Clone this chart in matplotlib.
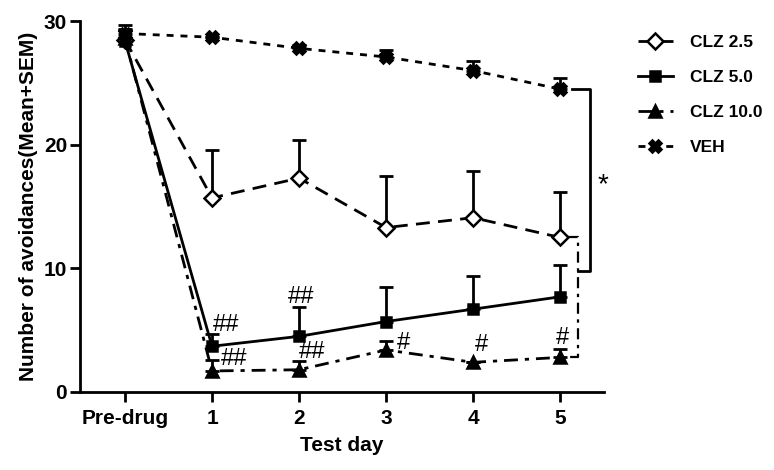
import matplotlib
matplotlib.use("Agg")
import matplotlib.pyplot as plt
import numpy as np

plt.rcParams['font.family'] = ['Liberation Sans', 'DejaVu Sans']

days = ["Pre-drug", "1", "2", "3", "4", "5"]
clz25 = [28.5, 15.7, 17.3, 13.3, 14.1, 12.5]
clz25_sem = [0.8, 3.9, 3.1, 4.2, 3.8, 3.7]
clz50 = [28.4, 3.7, 4.5, 5.7, 6.7, 7.7]
clz50_sem = [0.9, 1.0, 2.4, 2.8, 2.7, 2.6]
clz100 = [28.6, 1.7, 1.8, 3.4, 2.4, 2.8]
clz100_sem = [0.8, 0.9, 0.7, 0.7, 0.0, 0.7]
veh = [29.0, 28.7, 27.8, 27.1, 26.0, 24.5]
veh_sem = [0.7, 0.0, 0.3, 0.6, 0.8, 0.9]

marks = [("##", 1.16, 5.4), ("##", 1.25, 2.7), ("##", 2.02, 7.7), ("##", 2.15, 3.2),
         ("#", 3.2, 4.0), ("#", 4.1, 3.8), ("#", 5.03, 4.4)]

fig = plt.figure(figsize=(7.74, 4.70), dpi=100)
ax = fig.add_axes([0.103, 0.166, 0.677, 0.789])
x = np.arange(len(days))

series = [
    ("CLZ 2.5", clz25, clz25_sem, dict(ls=(0, (5, 3)), marker='D', mfc='white', ms=8)),
    ("CLZ 5.0", clz50, clz50_sem, dict(ls='-', marker='s', mfc='black', ms=7)),
    ("CLZ 10.0", clz100, clz100_sem, dict(ls=(0, (5, 2.5, 1.5, 2.5)), marker='^', mfc='black', ms=8)),
    ("VEH", veh, veh_sem, dict(ls=(0, (2.5, 2.5)), marker='X', mfc='black', ms=9)),
]
handles = []
for name, y, e, st in series:
    ax.errorbar(x, y, yerr=[np.zeros(len(e)), e], fmt='none', ecolor='black',
                elinewidth=2, capsize=5, capthick=2, clip_on=False, zorder=2)
    h, = ax.plot(x, y, color='black', lw=2, ls=st['ls'], marker=st['marker'],
                 mfc=st['mfc'], mec='black', mew=1.8, ms=st['ms'], clip_on=False,
                 zorder=3, label=name)
    handles.append(h)

for t, tx, ty in marks:
    ax.text(tx, ty, t, fontsize=17, ha='center', va='center')

# brackets
ax.plot([5.08, 5.21, 5.21, 5.08], [clz25[5], clz25[5], clz100[5], clz100[5]],
        color='black', lw=1.6, ls=(0, (5, 2.5, 1.5, 2.5)), clip_on=False)
ax.plot([5.13, 5.34, 5.34, 5.21], [veh[5], veh[5], 9.8, 9.8],
        color='black', lw=2, clip_on=False)
ax.text(5.49, 16.7, "*", fontsize=20, ha='center', va='center')

ax.set_xlim(-0.52, 5.5)
ax.set_ylim(0, 30)
ax.set_xticks(x)
ax.set_xticklabels(days)
ax.set_yticks([0, 10, 20, 30])
for s in ['top', 'right']:
    ax.spines[s].set_visible(False)
for s in ['left', 'bottom']:
    ax.spines[s].set_linewidth(2)
ax.tick_params(width=2, length=7, labelsize=15)
ax.tick_params(axis='y', pad=2)
ax.tick_params(axis='x', pad=5)
for lab in ax.get_xticklabels() + ax.get_yticklabels():
    lab.set_fontweight('bold')
ax.set_xlabel("Test day", fontsize=15, fontweight='bold', labelpad=6)
ax.set_ylabel("Number of avoidances(Mean+SEM)", fontsize=15, fontweight='bold', labelpad=4)

leg = fig.legend(handles=handles, loc='upper left', bbox_to_anchor=(0.804, 0.96),
                 frameon=False, prop={'size': 12.5, 'weight': 'bold'},
                 handlelength=2.0, labelspacing=1.15, handletextpad=1.0)

fig.savefig("out.png", dpi=100)
